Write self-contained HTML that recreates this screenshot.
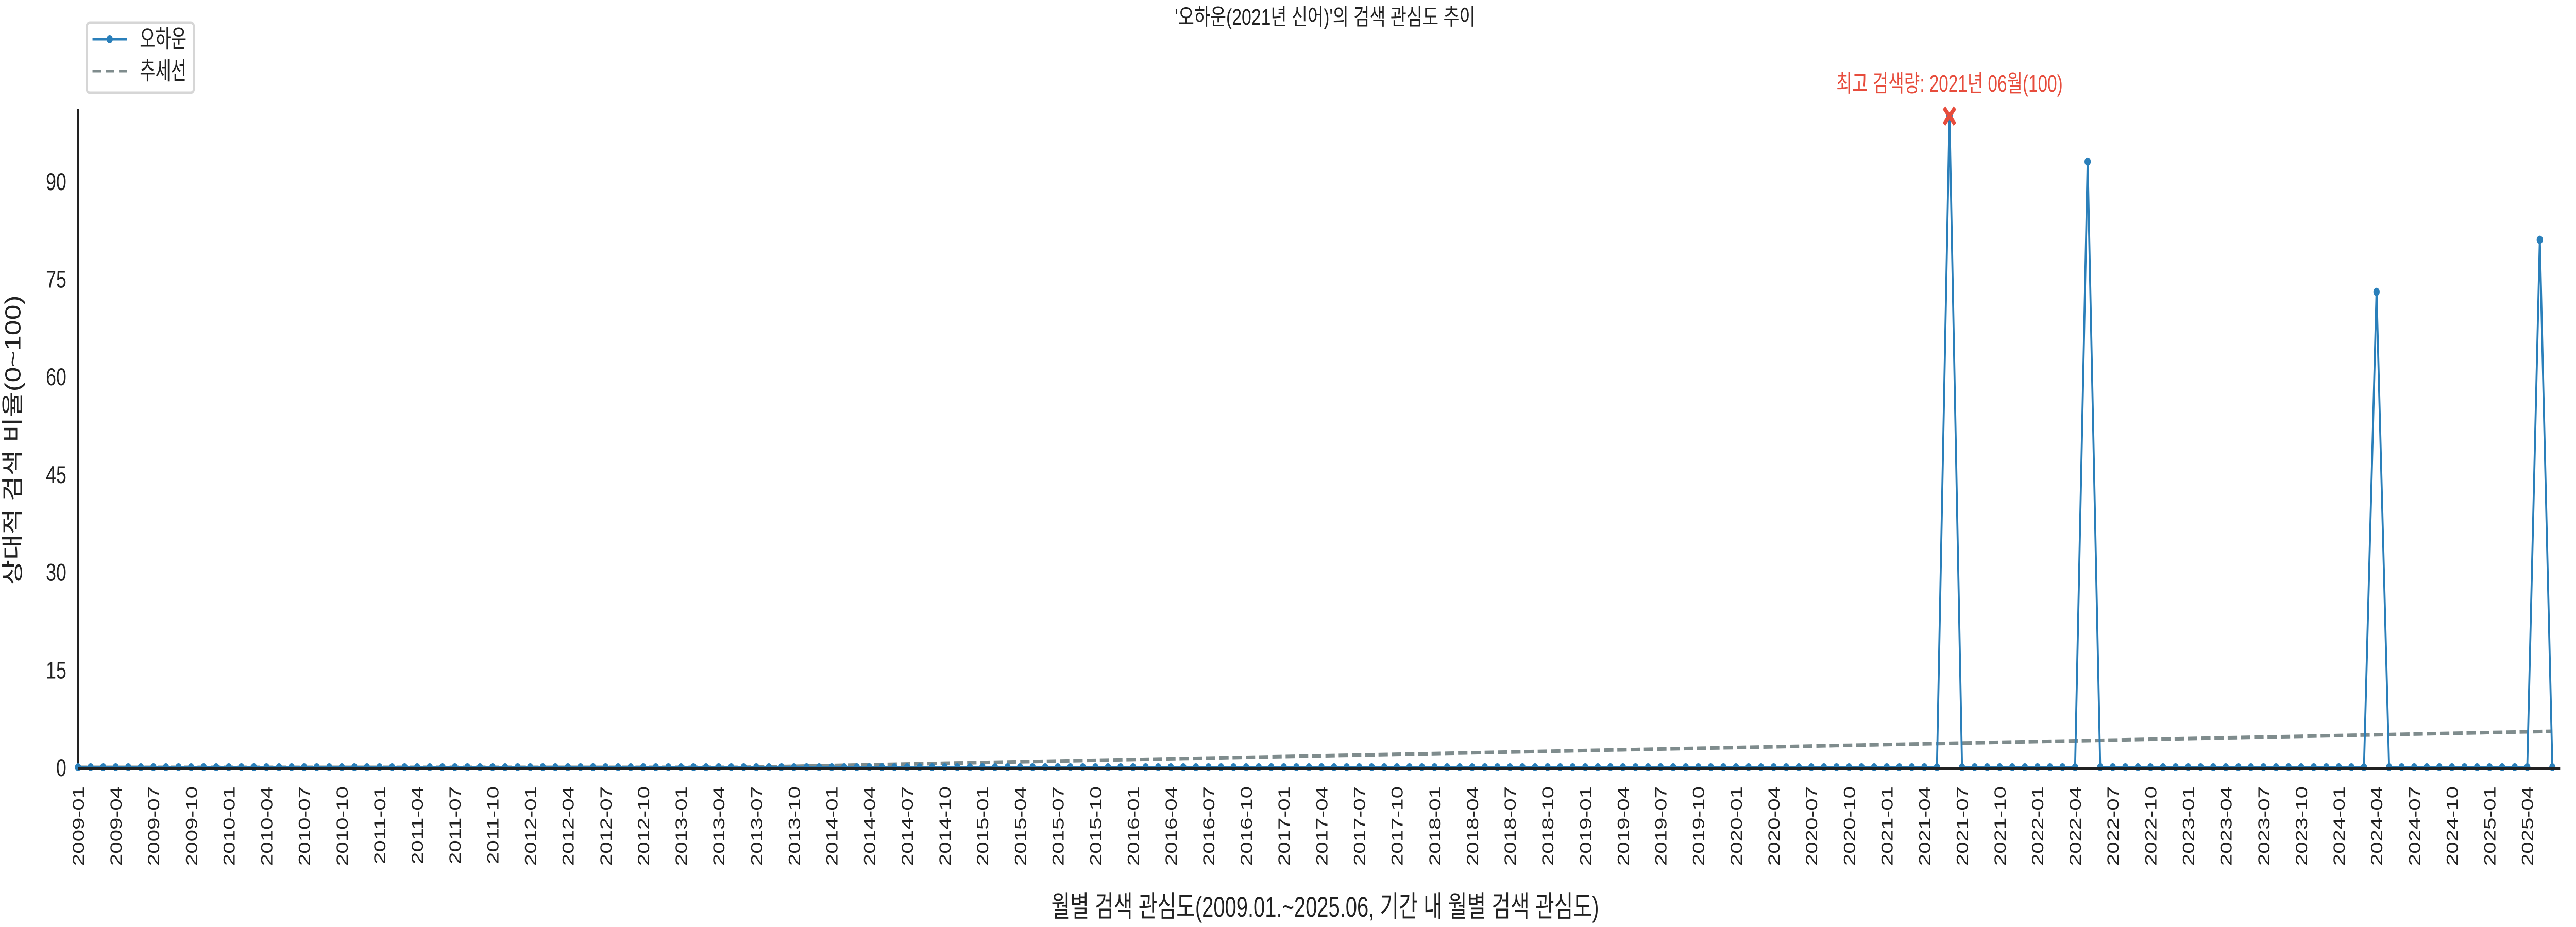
<!DOCTYPE html>
<html><head><meta charset="utf-8">
<style>
html,body{margin:0;padding:0;background:#fff;overflow:hidden;width:100%;height:100%;}
svg{display:block;position:absolute;left:0;top:0;width:100vw;height:100vh;font-family:"Liberation Sans","Noto Sans CJK KR",sans-serif;}
</style></head>
<body>
<svg id="chart" viewBox="0 0 6600 1800" preserveAspectRatio="none" xmlns="http://www.w3.org/2000/svg">
  <text x="3395" y="48" font-size="44" text-anchor="middle" fill="#222" textLength="770" lengthAdjust="spacingAndGlyphs">'오하운(2021년 신어)'의 검색 관심도 추이</text>
  <g id="plot"></g>
  <text x="3395" y="1780" font-size="56" text-anchor="middle" fill="#222" textLength="1403" lengthAdjust="spacingAndGlyphs">월별 검색 관심도(2009.01.~2025.06, 기간 내 월별 검색 관심도)</text>
  <text transform="translate(52,855) rotate(-90)" font-size="56" text-anchor="middle" fill="#222" textLength="563" lengthAdjust="spacingAndGlyphs">상대적 검색 비율(0~100)</text>
  <g>
    <rect x="222" y="44" width="275" height="136" rx="8" fill="#fff" stroke="#d6d6d6" stroke-width="5"/>
    <line x1="237" y1="76" x2="325" y2="76" stroke="#2a7fba" stroke-width="5"/>
    <circle cx="281" cy="76" r="8" fill="#2a7fba"/>
    <text x="358" y="92" font-size="48" fill="#222" textLength="120" lengthAdjust="spacingAndGlyphs">오하운</text>
    <line x1="237" y1="138" x2="325" y2="138" stroke="#7f8c8d" stroke-width="5" stroke-dasharray="22,12"/>
    <text x="358" y="154" font-size="48" fill="#222" textLength="120" lengthAdjust="spacingAndGlyphs">추세선</text>
  </g>
</svg>
<script>
const startYear = 2009;
const monthCount = 198;
const peakMonths = ["2021-06", "2022-05", "2024-04", "2025-05"];
const peakValues = [100, 93, 73, 81];
const yTicks = [0, 15, 30, 45, 60, 75, 90];
const annotationText = "최고 검색량: 2021년 06월(100)";

const NS = "http://www.w3.org/2000/svg";
const plot = document.getElementById("plot");
const X0 = 200, DX = 32.18, Y0 = 1490, YTOP = 212, PXU = 12.647;
function xScale(i){ return X0 + i*DX; }
function yScale(v){ return Y0 - v*PXU; }
function mk(tag, attrs){ const e=document.createElementNS(NS,tag); for(const k in attrs) e.setAttribute(k,attrs[k]); plot.appendChild(e); return e; }

const labels = [], values = [];
for(let i=0;i<monthCount;i++){
  const y = startYear + Math.floor(i/12), m = i%12+1;
  const lab = y + "-" + String(m).padStart(2,"0");
  labels.push(lab);
  const pi = peakMonths.indexOf(lab);
  values.push(pi>=0 ? peakValues[pi] : 0);
}

yTicks.forEach(t=>{
  const e = mk("text",{x:170,y:yScale(t)+17,"font-size":47,"text-anchor":"end",fill:"#222"});
  
  
  e.textContent = t;
});
labels.forEach((lab,i)=>{
  if(i%3!==0) return;
  const x = xScale(i);
  const e = mk("text",{transform:`translate(${x+15},1527) rotate(-90)`,"font-size":42,"text-anchor":"end",fill:"#222"});
  
  
  e.textContent = lab;
});

const ls = mk("line",{x1:X0,y1:YTOP,x2:X0,y2:Y0,stroke:"#222","stroke-width":5});



const n = values.length;
let mx=0,my=0; for(let i=0;i<n;i++){mx+=i;my+=values[i];} mx/=n; my/=n;
let sxy=0,sxx=0; for(let i=0;i<n;i++){sxy+=(i-mx)*(values[i]-my); sxx+=(i-mx)*(i-mx);}
const slope=sxy/sxx, icpt=my-slope*mx;
let tp=[]; for(let i=0;i<n;i++){ tp.push(xScale(i)+","+yScale(Math.max(0,icpt+slope*i))); }
const tr = mk("polyline",{points:tp.join(" "),fill:"none",stroke:"#7f8c8d","stroke-width":7,"stroke-dasharray":"24,10"});



const pts = values.map((v,i)=>xScale(i)+","+yScale(v)).join(" ");
const sl = mk("polyline",{points:pts,fill:"none",stroke:"#2a7fba","stroke-width":5,"stroke-linejoin":"round"});


values.forEach((v,i)=>{
  const c = mk("circle",{cx:xScale(i),cy:yScale(v),r:8,fill:"#2a7fba"});
  
  
});

const lb = mk("line",{x1:X0,y1:Y0+3,x2:xScale(monthCount-1)+20,y2:Y0+3,stroke:"#222","stroke-width":6});



let mi=0; values.forEach((v,i)=>{ if(v>values[mi]) mi=i; });
const mxp=xScale(mi), myp=yScale(values[mi]);
const mark = mk("path",{d:`M${mxp-14},${myp-16}L${mxp+14},${myp+16}M${mxp+14},${myp-16}L${mxp-14},${myp+16}`,stroke:"#e74c3c","stroke-width":9});


const at = mk("text",{x:mxp,y:178,"font-size":46,"text-anchor":"middle",fill:"#e74c3c",textLength:580,lengthAdjust:"spacingAndGlyphs"});


at.textContent = annotationText;
</script>
</body></html>
